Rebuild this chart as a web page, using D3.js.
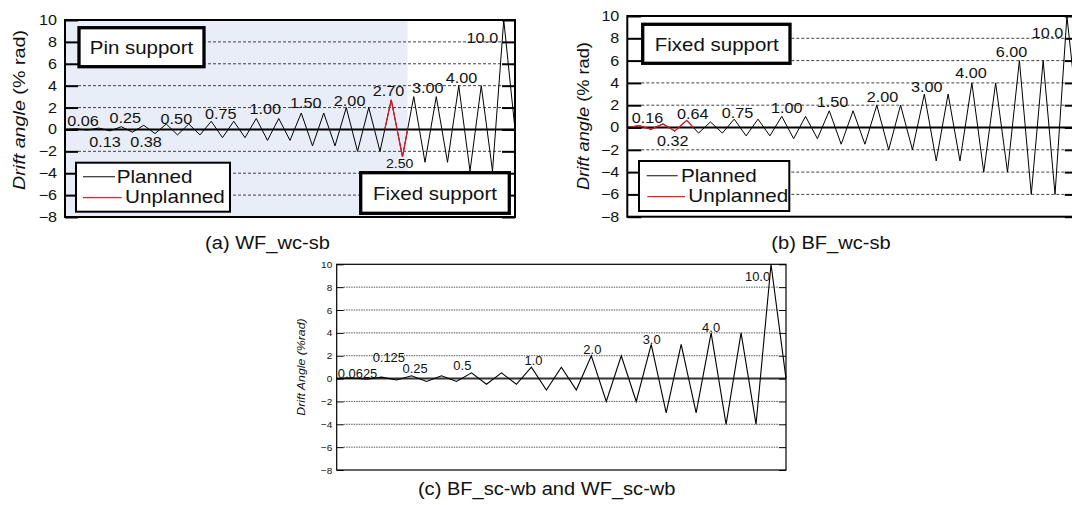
<!DOCTYPE html>
<html>
<head>
<meta charset="utf-8">
<script src="https://cdn.jsdelivr.net/npm/d3@7"></script>
<style>
  body { margin: 0; background: #fff; }
  text { font-family: "Liberation Sans", Arial, sans-serif; fill: #111; }
</style>
</head>
<body>
<svg id="chart" width="1072" height="505"></svg>
<script>
// y axis (same for all three panels)
const yTicks = [10, 8, 6, 4, 2, 0, -2, -4, -6, -8];
const gridVals = [8, 6, 4, 2, -2, -4, -6];

// peak drift of every half cycle (% rad), in loading order
const driftA = [0.06, -0.06, 0.13, -0.13, 0.25, -0.25, 0.38, -0.38, 0.5, -0.5, 0.5, -0.5,
  0.75, -0.75, 0.75, -0.75, 1, -1, 1, -1, 1.5, -1.5, 1.5, -1.5, 2, -2, 2, -2,
  2.7, -2.5, 3, -3, 3, -3, 4, -3.8, 4, -3.8, 10];
const unplannedA = [29, 30];
const labelsA = [
  { t: "0.06", x: 1.6, y: 0.3 }, { t: "0.13", x: 3.55, y: -1.58 },
  { t: "0.25", x: 5.35, y: 0.55 }, { t: "0.38", x: 7.2, y: -1.58 },
  { t: "0.50", x: 9.9, y: 0.5 }, { t: "0.75", x: 13.85, y: 0.92 },
  { t: "1.00", x: 17.8, y: 1.38 }, { t: "1.50", x: 21.4, y: 1.93 },
  { t: "2.00", x: 25.3, y: 2.14 }, { t: "2.70", x: 28.75, y: 3.08 },
  { t: "2.50", x: 29.75, y: -3.56, small: true }, { t: "3.00", x: 32.25, y: 3.35 },
  { t: "4.00", x: 35.25, y: 4.27 }, { t: "10.0", x: 37.1, y: 7.87 }
];

const driftB = [0.16, -0.16, 0.32, -0.32, 0.64, -0.5, 0.5, -0.5,
  0.75, -0.75, 0.75, -0.75, 1, -1, 1, -1, 1.5, -1.5, 1.5, -1.5, 2, -2, 2, -2,
  3, -3, 3, -3, 4, -4, 4, -4, 6, -6, 6, -6, 10];
const unplannedB = [1, 2, 3, 4, 5];
const labelsB = [
  { t: "0.16", x: 1.7, y: 0.38 }, { t: "0.32", x: 3.83, y: -1.63 },
  { t: "0.64", x: 5.5, y: 0.74 }, { t: "0.75", x: 9.28, y: 0.83 },
  { t: "1.00", x: 13.42, y: 1.27 }, { t: "1.50", x: 17.27, y: 1.87 },
  { t: "2.00", x: 21.48, y: 2.31 }, { t: "3.00", x: 25.21, y: 3.21 },
  { t: "4.00", x: 28.92, y: 4.41 }, { t: "6.00", x: 32.33, y: 6.35 },
  { t: "10.0", x: 35.37, y: 8.0 }
];

const driftC = [0.0625, -0.0625, 0.125, -0.125, 0.25, -0.25, 0.25, -0.25,
  0.5, -0.5, 0.5, -0.5, 1, -1, 1, -1, 2, -2, 2, -2, 3, -3, 3, -3, 4, -4, 4, -4, 10];
const labelsC = [
  { t: "0.0625", x: 1.39, y: 0.08 }, { t: "0.125", x: 3.48, y: 1.43 },
  { t: "0.25", x: 5.24, y: 0.52 }, { t: "0.5", x: 8.39, y: 0.75 },
  { t: "1.0", x: 13.14, y: 1.19 }, { t: "2.0", x: 17.07, y: 2.13 },
  { t: "3.0", x: 21.03, y: 2.99 }, { t: "4.0", x: 25.0, y: 4.1 },
  { t: "10.0", x: 28.1, y: 8.57 }
];

const svg = d3.select('#chart');

function txt(g, x, y, s, size, sx, anchor) {
  return g.append('text')
    .attr('transform', `translate(${x},${y}) scale(${sx},1)`)
    .attr('font-size', size)
    .attr('text-anchor', anchor || 'start')
    .text(s);
}

function zeroCross(p, q) {
  if (p.y === 0) return { x: p.x, y: 0 };
  if (q.y === 0) return { x: q.x, y: 0 };
  return { x: p.x + (q.x - p.x) * p.y / (p.y - q.y), y: 0 };
}

function drawPanel(cfg) {
  const g = svg.append('g');
  const n = cfg.drift.length + 1;
  const x = d3.scaleLinear().domain([0, n]).range([cfg.x0, cfg.x1]);
  const y = d3.scaleLinear().domain([-8, 10]).range([cfg.y1, cfg.y0]);

  const pts = [{ x: 0, y: 0 }];
  cfg.drift.forEach((d, i) => pts.push({ x: i + 1, y: d }));
  pts.push({ x: n, y: 0 });

  // unplanned part, from zero crossing to zero crossing
  let red = null;
  if (cfg.unplanned && cfg.unplanned.length) {
    const k1 = d3.min(cfg.unplanned), k2 = d3.max(cfg.unplanned);
    red = [zeroCross(pts[k1 - 1], pts[k1])];
    for (let k = k1; k <= k2; k++) red.push(pts[k]);
    red.push(zeroCross(pts[k2], pts[k2 + 1]));
  }

  if (cfg.shade && red) {
    g.append('rect')
      .attr('x', x(0)).attr('y', y(10))
      .attr('width', x(red[red.length - 1].x) - x(0))
      .attr('height', y(-8) - y(10))
      .attr('fill', '#e9edf7');
  }

  // dashed grid
  g.selectAll('.grid').data(gridVals).enter().append('line')
    .attr('x1', cfg.x0 + cfg.tick).attr('x2', cfg.x1 - cfg.tick)
    .attr('y1', d => y(d)).attr('y2', d => y(d))
    .attr('stroke', cfg.gridColor).attr('stroke-width', cfg.gridW)
    .attr('stroke-dasharray', cfg.dash);

  const line = d3.line().x(d => x(d.x)).y(d => y(d.y));

  g.append('line')
    .attr('x1', cfg.x0).attr('x2', cfg.x1)
    .attr('y1', y(0)).attr('y2', y(0))
    .attr('stroke', cfg.zeroColor).attr('stroke-width', 2);

  g.append('path').datum(pts).attr('d', line)
    .attr('fill', 'none').attr('stroke', '#000').attr('stroke-width', cfg.lineW)
    .attr('stroke-linejoin', 'miter');
  if (red) {
    g.append('path').datum(red).attr('d', line)
      .attr('fill', 'none').attr('stroke', '#e8141c').attr('stroke-width', cfg.lineW + 0.2);
  }

  // axes
  const axL = g.append('g').attr('transform', `translate(${cfg.x0},0)`)
    .call(d3.axisLeft(y).tickValues(yTicks).tickSize(-cfg.tick).tickPadding(cfg.pad)
      .tickFormat(d3.format('d')));
  axL.select('.domain').remove();
  axL.selectAll('line').attr('stroke', '#000').attr('stroke-width', cfg.tickW);
  axL.selectAll('text')
    .attr('font-family', '"Liberation Sans", Arial, sans-serif')
    .attr('font-size', cfg.tickFont)
    .attr('fill', '#111')
    .attr('x', -cfg.pad / cfg.tickSx)
    .attr('transform', `scale(${cfg.tickSx},1)`);

  const axR = g.append('g').attr('transform', `translate(${cfg.x1},0)`)
    .call(d3.axisRight(y).tickValues(yTicks).tickSize(-cfg.tick).tickFormat(''));
  axR.select('.domain').remove();
  axR.selectAll('line').attr('stroke', '#000').attr('stroke-width', cfg.tickW);

  g.append('rect')
    .attr('x', cfg.x0).attr('y', cfg.y0)
    .attr('width', cfg.x1 - cfg.x0).attr('height', cfg.y1 - cfg.y0)
    .attr('fill', 'none').attr('stroke', '#000').attr('stroke-width', cfg.frameW);

  // amplitude labels
  cfg.labels.forEach(l => {
    txt(g, x(l.x), y(l.y), l.t, l.small ? cfg.labFont - 2 : cfg.labFont, cfg.labSx, 'middle');
  });

  // y title
  const tt = g.append('text')
    .attr('transform', `translate(${cfg.titleX},${cfg.titleY}) rotate(-90) scale(${cfg.titleSx},1)`)
    .attr('font-size', cfg.titleFont)
    .attr('text-anchor', 'middle');
  cfg.title.forEach(p => tt.append('tspan').attr('font-style', p.it ? 'italic' : 'normal').text(p.s));

  // caption
  txt(g, cfg.capX, cfg.capY, cfg.caption, 18.5, 1.085, 'middle');
  return { g, x, y };
}

function box(g, bx, by, bw, bh, sw) {
  return g.append('rect').attr('x', bx).attr('y', by).attr('width', bw).attr('height', bh)
    .attr('fill', '#fff').attr('stroke', '#000').attr('stroke-width', sw);
}

function legend(g, bx, by, bw, bh, ly1, ly2, l1, l2, t1, t2) {
  box(g, bx, by, bw, bh, 2);
  g.append('line').attr('x1', l1[0]).attr('x2', l1[1]).attr('y1', ly1).attr('y2', ly1)
    .attr('stroke', '#333').attr('stroke-width', 1.2);
  g.append('line').attr('x1', l2[0]).attr('x2', l2[1]).attr('y1', ly2).attr('y2', ly2)
    .attr('stroke', '#f0202a').attr('stroke-width', 1.2);
  txt(g, t1, ly1 + 6, 'Planned', 17.5, 1.18);
  txt(g, t2, ly2 + 5, 'Unplanned', 17.5, 1.18);
}

const common = { tickW: 2, tickFont: 14, tickSx: 1.15, pad: 8, gridColor: '#444', gridW: 1,
  dash: '3,2', zeroColor: '#000', lineW: 1, frameW: 2, labFont: 15, labSx: 1.08, titleFont: 17 };

const pa = drawPanel(Object.assign({}, common, {
  x0: 65, x1: 515, y0: 20, y1: 217, tick: 13, drift: driftA, unplanned: unplannedA, shade: true,
  labels: labelsA, title: [{ s: 'Drift angle', it: true }, { s: ' (% rad)' }],
  titleX: 24.5, titleY: 110, titleSx: 1.16, caption: '(a) WF_wc-sb', capX: 267.5, capY: 248.5
}));
box(pa.g, 79, 27.7, 125, 39, 3.3);
txt(pa.g, 141.5, 54, 'Pin support', 17.5, 1.17, 'middle');
box(pa.g, 360.7, 172.7, 148.6, 40.6, 3.3);
txt(pa.g, 435, 200, 'Fixed support', 17.5, 1.17, 'middle');
legend(pa.g, 76, 162.7, 154, 49, 176.7, 197.7, [83, 115], [83, 121.7], 116.7, 125);

const pb = drawPanel(Object.assign({}, common, {
  x0: 627.3, x1: 1078.8, y0: 16, y1: 216.7, tick: 14, drift: driftB, unplanned: unplannedB,
  labels: labelsB, title: [{ s: 'Drift angle', it: true }, { s: ' (% rad)' }], titleFont: 16,
  titleX: 589, titleY: 116, titleSx: 1.14, caption: '(b) BF_wc-sb', capX: 831, capY: 248.5
}));
box(pb.g, 642.7, 24.3, 147.3, 39, 3.3);
txt(pb.g, 716.8, 50.7, 'Fixed support', 17.5, 1.17, 'middle');
legend(pb.g, 639, 161, 150.3, 50, 175.7, 196.7, [646.7, 677.7], [647.3, 685], 681, 688.3);

drawPanel(Object.assign({}, common, {
  x0: 336.7, x1: 786, y0: 264.3, y1: 470, tick: 7, drift: driftC, unplanned: [],
  labels: labelsC, tickW: 1, tickFont: 9.5, tickSx: 1.05, pad: 4.5, gridColor: '#555', gridW: 1,
  dash: '1.5,1', zeroColor: '#333', lineW: 1.1, frameW: 1.2, labFont: 12, labSx: 1.08,
  title: [{ s: 'Drift Angle (%rad)', it: true }], titleFont: 11, titleX: 305, titleY: 367,
  titleSx: 1.12, caption: '(c) BF_sc-wb and WF_sc-wb', capX: 546.7, capY: 495
}));
</script>
</body>
</html>
